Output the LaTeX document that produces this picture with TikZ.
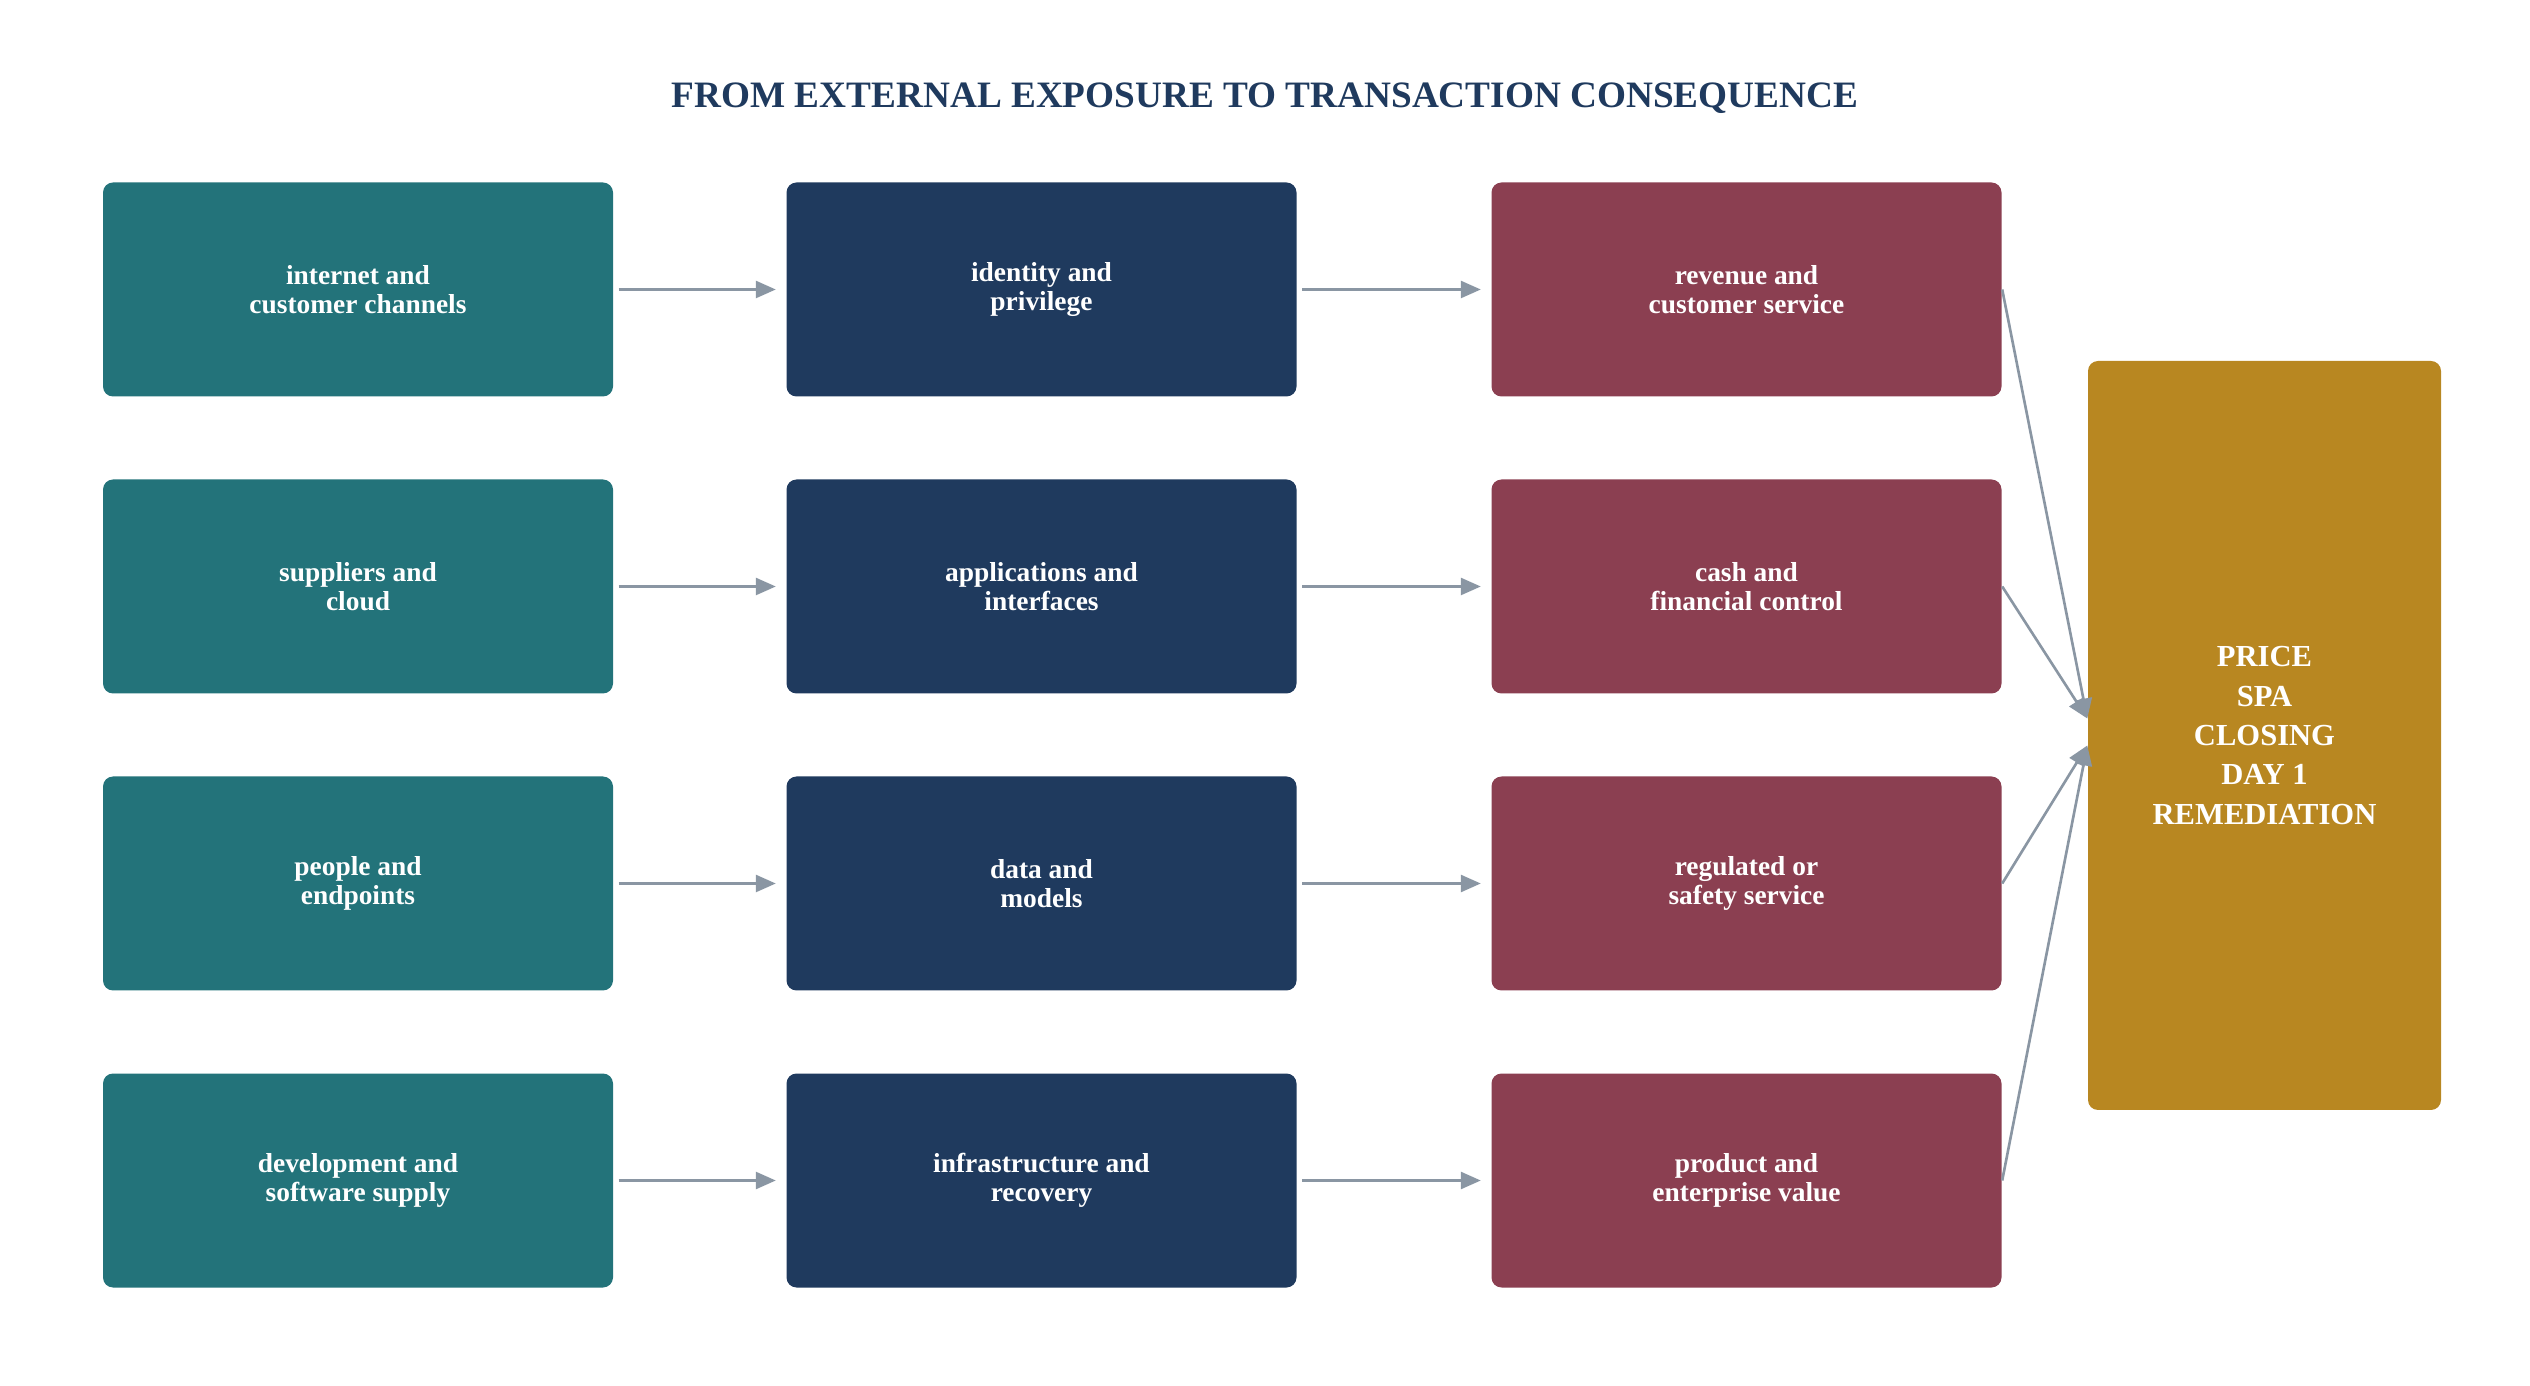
\documentclass[tikz,border=0pt]{standalone}
\usepackage{fontspec}
\setmainfont{Liberation Serif}
\usetikzlibrary{arrows.meta}
\definecolor{tealbox}{HTML}{23737A}
\definecolor{navybox}{HTML}{1F3A5E}
\definecolor{wine}{HTML}{8B3F51}
\definecolor{goldbox}{HTML}{B88721}
\definecolor{arrowgray}{HTML}{8A96A3}
\begin{document}
\begin{tikzpicture}[node distance=2.97cm, block/.style={rectangle, rounded corners=0.1cm, minimum height=2.14cm, minimum width=5.1cm, text=white, align=center, font=\bfseries\fontsize{7.8}{8.3}\selectfont}, flow/.style={-{Triangle[length=0.2cm,width=0.17cm]}, draw=arrowgray, line width=0.75pt, shorten <=0.05cm, shorten >=0.1cm}]
  \useasboundingbox (0,0) rectangle (25.3,-13.86);
  \node[text=navybox, font=\bfseries\fontsize{10.6}{12}\selectfont] (title) at (12.65,-0.98) {FROM EXTERNAL EXPOSURE TO TRANSACTION CONSEQUENCE};

  \node[block, fill=tealbox] (internet) at (3.58,-2.895) {internet and\\customer channels};
  \node[block, fill=tealbox, below of=internet] (suppliers) {suppliers and\\cloud};
  \node[block, fill=tealbox, below of=suppliers] (people) {people and\\endpoints};
  \node[block, fill=tealbox, below of=people] (devel) {development and\\software supply};

  \node[block, fill=navybox, right of=internet, node distance=6.835cm] (identity) {identity and\\privilege};
  \node[block, fill=navybox, below of=identity] (apps) {applications and\\interfaces};
  \node[block, fill=navybox, below of=apps] (datamod) {data and\\models};
  \node[block, fill=navybox, below of=datamod] (infra) {infrastructure and\\recovery};

  \node[block, fill=wine, right of=identity, node distance=7.05cm] (revenue) {revenue and\\customer service};
  \node[block, fill=wine, below of=revenue] (cash) {cash and\\financial control};
  \node[block, fill=wine, below of=cash] (regulated) {regulated or\\safety service};
  \node[block, fill=wine, below of=regulated] (product) {product and\\enterprise value};

  \node[block, fill=goldbox, minimum width=3.53cm, minimum height=7.49cm, font=\bfseries\fontsize{8.7}{11.2}\selectfont] (deal) at (22.645,-7.355) {PRICE\\SPA\\CLOSING\\DAY 1\\REMEDIATION};
  \coordinate (dealup) at ([yshift=0.17cm]deal.west);
  \coordinate (dealdown) at ([yshift=-0.1cm]deal.west);

  \draw[flow] (internet) -- (identity);
  \draw[flow] (suppliers) -- (apps);
  \draw[flow] (people) -- (datamod);
  \draw[flow] (devel) -- (infra);
  \draw[flow] (identity) -- (revenue);
  \draw[flow] (apps) -- (cash);
  \draw[flow] (datamod) -- (regulated);
  \draw[flow] (infra) -- (product);

  \draw[flow, shorten >=0pt, shorten <=0pt] (revenue.east) -- (dealup);
  \draw[flow, shorten >=0pt, shorten <=0pt] (cash.east) -- (dealup);
  \draw[flow, shorten >=0pt, shorten <=0pt] (regulated.east) -- (dealdown);
  \draw[flow, shorten >=0pt, shorten <=0pt] (product.east) -- (dealdown);

\end{tikzpicture}
\end{document}
